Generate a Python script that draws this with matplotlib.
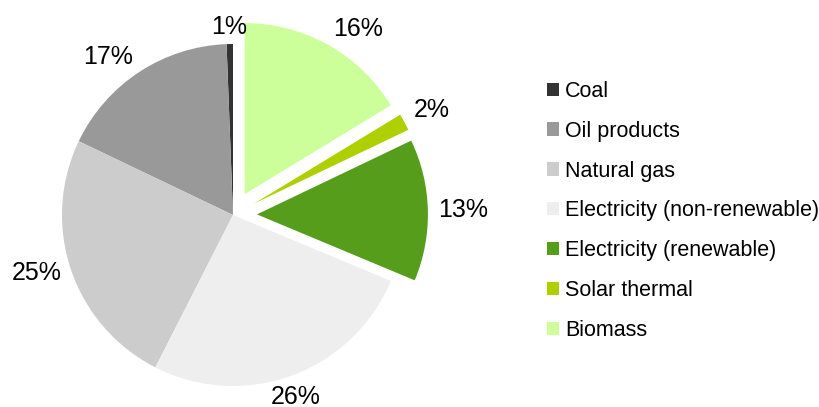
import matplotlib
matplotlib.use("Agg")
import matplotlib.pyplot as plt
import numpy as np
from matplotlib.patches import Patch

plt.rcParams['font.family'] = ['Liberation Sans', 'DejaVu Sans']

# energy use shares (%)
labels = ['Coal', 'Oil products', 'Natural gas', 'Electricity (non-renewable)',
          'Electricity (renewable)', 'Solar thermal', 'Biomass']
values = [0.6, 17.3, 24.6, 26.2, 13.4, 1.6, 16.3]
colors = ['#333333', '#999999', '#cccccc', '#eeeeee',
          '#579d1c', '#aecf00', '#ccff99']
renewable = [False, False, False, False, True, True, True]

W, H = 820, 407
cx, cy, R = 233, 215, 171   # pie centre / radius in pixels

fig = plt.figure(figsize=(W / 100, H / 100), dpi=100)
ax = fig.add_axes([0, 0, 1, 1])

explode = [0.14 if r else 0 for r in renewable]
wedges, _ = ax.pie(values, colors=colors, explode=explode, startangle=90,
                   counterclock=True, wedgeprops=dict(linewidth=0))

ax.set_xlim(-cx / R, (W - cx) / R)
ax.set_ylim(-(H - cy) / R, cy / R)
ax.set_aspect('equal', adjustable='datalim')

# percentage labels outside the wedges
total = sum(values)
for w, v in zip(wedges, values):
    ang = np.deg2rad((w.theta1 + w.theta2) / 2)
    c, s = np.cos(ang), np.sin(ang)
    x = w.center[0] + 1.06 * w.r * c
    y = w.center[1] + 1.06 * w.r * s
    ha = 'left' if c > 0.4 else ('right' if c < -0.4 else 'center')
    va = 'baseline' if s > 0.4 else ('top' if s < -0.4 else 'center')
    ax.text(x, y, f"{v / total * 100:.0f}%", ha=ha, va=va, fontsize=18,
            color='#000000')

handles = [Patch(facecolor=col, edgecolor='none') for col in colors]
fig.legend(handles, labels, loc='center left',
           bbox_to_anchor=(547 / W, 1 - 211 / H), frameon=False,
           fontsize=15.5, handlelength=0.56, handleheight=0.56,
           handletextpad=0.27, labelspacing=0.88, borderpad=0,
           borderaxespad=0)

fig.savefig('out.png', dpi=100)
